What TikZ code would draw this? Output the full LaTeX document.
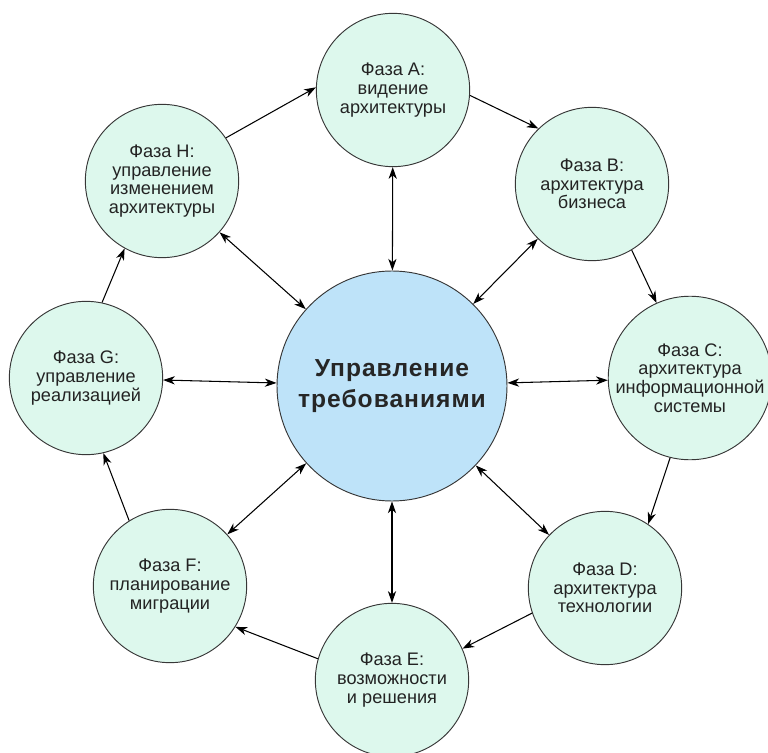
\documentclass[tikz,border=0pt]{standalone}
\usepackage{fontspec}
\setmainfont{Liberation Sans}
\usetikzlibrary{arrows.meta}
\definecolor{phasefill}{RGB}{221,248,237}
\definecolor{hubfill}{RGB}{190,227,249}
\definecolor{rim}{RGB}{55,55,55}
\definecolor{ink}{RGB}{35,35,35}

\begin{document}
\begin{tikzpicture}
        [x=0.3mm,y=-0.3mm,
         phase/.style={draw=rim,line width=0.8pt,circle,fill=phasefill,minimum size=46mm,inner sep=0pt,align=center,text=ink,font=\fontsize{15.5}{16}\selectfont},
         hub/.style={draw=rim,line width=0.8pt,circle,fill=hubfill,minimum size=69mm,inner sep=0pt,align=center,text=black!85,font=\fontsize{21}{27}\selectfont\bfseries\addfontfeatures{LetterSpace=4}},
         tip/.tip={Stealth[length=10pt,width=7pt,inset=3pt]},
         ring/.style={-tip,line width=0.9pt},
         spoke/.style={tip-tip,line width=0.9pt}]
        \useasboundingbox (0,0) rectangle (768,753);
        \node[hub] (R) at (392,386) {Управление\\требованиями};
        \node[phase] (A) at (393,90) {Фаза A:\\видение\\архитектуры};
        \node[phase] (B) at (592,184) {Фаза B:\\архитектура\\бизнеса};
        \node[phase] (C) at (690,378) {Фаза C:\\архитектура\\информационной\\системы};
        \node[phase] (D) at (605,588) {Фаза D:\\архитектура\\технологии};
        \node[phase] (E) at (392,680) {Фаза E:\\возможности\\и решения};
        \node[phase] (F) at (170,586) {Фаза F:\\планирование\\миграции};
        \node[phase] (G) at (86,378) {Фаза G:\\управление\\реализацией};
        \node[phase] (H) at (162,181) {Фаза H:\\управление\\изменением\\архитектуры};

        % cycle of phases
        \draw[ring] (A.-4) -- (B.134);
        \draw[ring] (B.-59) -- (C.114);
        \draw[ring] (C.-104) -- (D.56);
        \draw[ring] (D.-161) -- (E.24);
        \draw[ring] (E.164) -- (F.-32);
        \draw[ring] (F.122) -- (G.-77);
        \draw[ring] (G.78) -- (H.-119);
        \draw[ring] (H.34) -- (A.178);

        % links to the centre
        \draw[spoke] (A) -- (R);
        \draw[spoke] (B) -- (R);
        \draw[spoke] (C) -- (R);
        \draw[spoke] (D) -- (R);
        \draw[spoke] (E) -- (R);
        \draw[spoke] (F) -- (R);
        \draw[spoke] (G) -- (R);
        \draw[spoke] (H) -- (R);
      \end{tikzpicture}
\end{document}
